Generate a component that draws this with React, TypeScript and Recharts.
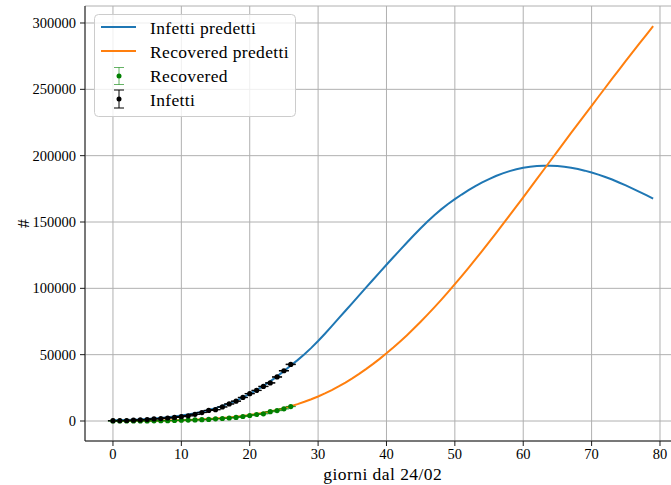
import React from 'react';
import { ComposedChart, Line, Scatter, XAxis, YAxis, CartesianGrid, ErrorBar, Legend, Label } from 'recharts';

const modelDays = [0, 1, 2, 3, 4, 5, 6, 7, 8, 9, 10, 11, 12, 13, 14, 15, 16, 17, 18, 19, 20, 21, 22, 23, 24, 25, 26, 27, 28, 29, 30, 31, 32, 33, 34, 35, 36, 37, 38, 39, 40, 41, 42, 43, 44, 45, 46, 47, 48, 49, 50, 51, 52, 53, 54, 55, 56, 57, 58, 59, 60, 61, 62, 63, 64, 65, 66, 67, 68, 69, 70, 71, 72, 73, 74, 75, 76, 77, 78, 79];

const infettiPredetti = [500, 630, 790, 985, 1220, 1510, 1860, 2280, 2780, 3370, 4070, 4900, 5860, 6970, 8250, 9720, 11390, 13280, 15400, 17780, 20410, 23310, 26470, 29910, 33620, 37600, 41800, 45900, 50300, 55100, 60300, 65800, 71500, 77300, 83100, 88900, 94700, 100500, 106300, 112050, 117750, 123400, 129000, 134550, 140000, 145300, 150350, 155100, 159500, 163550, 167250, 170700, 173950, 177000, 179800, 182350, 184650, 186650, 188350, 189750, 190850, 191650, 192150, 192400, 192400, 192150, 191650, 190900, 189900, 188700, 187300, 185700, 183950, 182050, 179800, 177550, 175200, 172750, 170200, 167600];

const recoveredPredetti = [20, 40, 65, 95, 135, 185, 245, 320, 410, 520, 655, 820, 1015, 1250, 1530, 1860, 2250, 2700, 3230, 3840, 4540, 5340, 6240, 7250, 8390, 9680, 11120, 12720, 14480, 16400, 18500, 20810, 23330, 26050, 28990, 32150, 35520, 39090, 42860, 46830, 51000, 55370, 59940, 64710, 69670, 74820, 80150, 85650, 91320, 97140, 103110, 109210, 115440, 121790, 128250, 134800, 141440, 148150, 154920, 161740, 168610, 175510, 182440, 189390, 196350, 203300, 210230, 217130, 223990, 230810, 237580, 244400, 251200, 258000, 264700, 271400, 278000, 284600, 291100, 297600];

const dataDays = [0, 1, 2, 3, 4, 5, 6, 7, 8, 9, 10, 11, 12, 13, 14, 15, 16, 17, 18, 19, 20, 21, 22, 23, 24, 25, 26];
const infetti = [221, 311, 385, 588, 821, 1049, 1577, 1835, 2263, 2706, 3296, 3916, 5061, 6387, 7985, 8514, 10590, 12839, 14955, 17750, 20603, 23073, 26062, 28710, 33190, 37860, 42681];
const infettiErr = [15, 18, 20, 24, 29, 32, 40, 43, 48, 52, 57, 63, 71, 80, 89, 92, 103, 113, 122, 133, 144, 152, 161, 169, 182, 195, 207];
const recovered = [8, 11, 15, 62, 67, 79, 117, 201, 239, 383, 562, 720, 822, 988, 1187, 1635, 1872, 2274, 2705, 3407, 4144, 4907, 5444, 7003, 7845, 9161, 10897];
const recoveredErr = [3, 3, 4, 8, 8, 9, 11, 14, 15, 20, 24, 27, 29, 31, 34, 40, 43, 48, 52, 58, 64, 70, 74, 84, 89, 96, 104];

const xTicks = [0, 10, 20, 30, 40, 50, 60, 70, 80];
const yTicks = [0, 50000, 100000, 150000, 200000, 250000, 300000];

const modelData = modelDays.map((d, i) => ({ x: d, inf: infettiPredetti[i], rec: recoveredPredetti[i] }));
const infettiData = dataDays.map((d, i) => ({ x: d, y: infetti[i], err: infettiErr[i] }));
const recoveredData = dataDays.map((d, i) => ({ x: d, y: recovered[i], err: recoveredErr[i] }));

const FONT = '"Liberation Serif", "Times New Roman", serif';
const AXIS = '#1a1a1a';

const LegendBox = () => (
  <svg width={203} height={104} style={{ display: 'block' }}>
    <rect x={0.5} y={0.5} width={201} height={102} rx={4} fill="#ffffff" fillOpacity={0.8} stroke="#cccccc" />
    <line x1={7} y1={13} x2={42} y2={13} stroke="#1f77b4" strokeWidth={2} />
    <text x={56} y={20} fontFamily={FONT} fontSize={17.5} letterSpacing={0.35} fill="#000">Infetti predetti</text>
    <line x1={7} y1={37} x2={42} y2={37} stroke="#ff7f0e" strokeWidth={2} />
    <text x={56} y={43.5} fontFamily={FONT} fontSize={17.5} letterSpacing={0.35} fill="#000">Recovered predetti</text>
    <g stroke="#008000" strokeOpacity={0.6} strokeWidth={1}>
      <line x1={25} y1={53.5} x2={25} y2={70.5} />
      <line x1={20} y1={53.5} x2={30} y2={53.5} />
      <line x1={20} y1={70.5} x2={30} y2={70.5} />
    </g>
    <circle cx={25} cy={62} r={2.5} fill="#008000" />
    <text x={56} y={67.5} fontFamily={FONT} fontSize={17.5} letterSpacing={0.35} fill="#000">Recovered</text>
    <g stroke="#000" strokeWidth={1}>
      <line x1={25} y1={76} x2={25} y2={94} />
      <line x1={20} y1={76} x2={30} y2={76} />
      <line x1={20} y1={94} x2={30} y2={94} />
    </g>
    <circle cx={25} cy={85} r={2.5} fill="#000" />
    <text x={56} y={91.5} fontFamily={FONT} fontSize={17.5} letterSpacing={0.35} fill="#000">Infetti</text>
  </svg>
);

const BlackDot = (p: any) => <circle cx={p.cx} cy={p.cy} r={2.6} fill="#000" />;
const GreenDot = (p: any) => <circle cx={p.cx} cy={p.cy} r={2.6} fill="#008000" />;

export default function App() {
  return (
    <div style={{ position: 'fixed', left: 0, top: 0, width: 671, height: 485, overflow: 'hidden', background: '#fff' }}>
      <ComposedChart width={700} height={485} margin={{ top: 6, right: 19.5, bottom: 0, left: 0 }} style={{ fontFamily: FONT }}>
        <CartesianGrid stroke="#b0b0b0" strokeWidth={1} />
        <XAxis
          type="number"
          dataKey="x"
          domain={[-4.09, 83]}
          ticks={xTicks}
          allowDataOverflow
          height={44}
          tickSize={5}
          tickMargin={3}
          tick={{ fontSize: 14.5, fill: '#000', fontFamily: FONT }}
          stroke={AXIS}
          axisLine={{ stroke: AXIS }}
          tickLine={{ stroke: AXIS }}
        >
          <Label
            content={(props: any) => {
              const vb = props.viewBox || { x: 85, y: 441, width: 595, height: 44 };
              return (
                <text x={vb.x + vb.width / 2} y={vb.y + vb.height - 5} textAnchor="middle" fontFamily={FONT} fontSize={17.5} letterSpacing={0.45} fill="#000">
                  giorni dal 24/02
                </text>
              );
            }}
          />
        </XAxis>
        <XAxis
          xAxisId="top"
          orientation="top"
          type="number"
          dataKey="x"
          domain={[-4.09, 83]}
          allowDataOverflow
          height={0}
          tick={false}
          tickLine={false}
          axisLine={{ stroke: AXIS }}
        />
        <YAxis
          type="number"
          domain={[-15075, 312814]}
          ticks={yTicks}
          allowDataOverflow
          width={85}
          tickSize={5}
          tickMargin={4}
          tick={{ fontSize: 14.5, fill: '#000', fontFamily: FONT }}
          stroke={AXIS}
          axisLine={{ stroke: AXIS }}
          tickLine={{ stroke: AXIS }}
        >
          <Label
            content={(props: any) => {
              const vb = props.viewBox || { x: 0, y: 6, width: 85, height: 435 };
              const cx = 23;
              const cy = vb.y + vb.height / 2;
              return (
                <text x={cx} y={cy} transform={`rotate(-90, ${cx}, ${cy})`} textAnchor="middle" dominantBaseline="central" fontFamily={FONT} fontSize={17.5} fill="#000">
                  #
                </text>
              );
            }}
          />
        </YAxis>
        <Legend
          content={LegendBox}
          layout="horizontal"
          verticalAlign="middle"
          align="center"
          wrapperStyle={{ left: 94, top: 14, width: 203, height: 104 }}
        />
        <Line data={modelData} dataKey="inf" type="linear" stroke="#1f77b4" strokeWidth={2} dot={false} activeDot={false} isAnimationActive={false} />
        <Line data={modelData} dataKey="rec" type="linear" stroke="#ff7f0e" strokeWidth={2} dot={false} activeDot={false} isAnimationActive={false} />
        <Scatter data={recoveredData} dataKey="y" fill="#008000" shape={GreenDot} isAnimationActive={false}>
          <ErrorBar dataKey="err" direction="y" width={5} stroke="#008000" strokeOpacity={0.6} strokeWidth={1} />
        </Scatter>
        <Scatter data={infettiData} dataKey="y" fill="#000" shape={BlackDot} isAnimationActive={false}>
          <ErrorBar dataKey="err" direction="y" width={5} stroke="#000" strokeWidth={1} />
        </Scatter>
      </ComposedChart>
    </div>
  );
}
